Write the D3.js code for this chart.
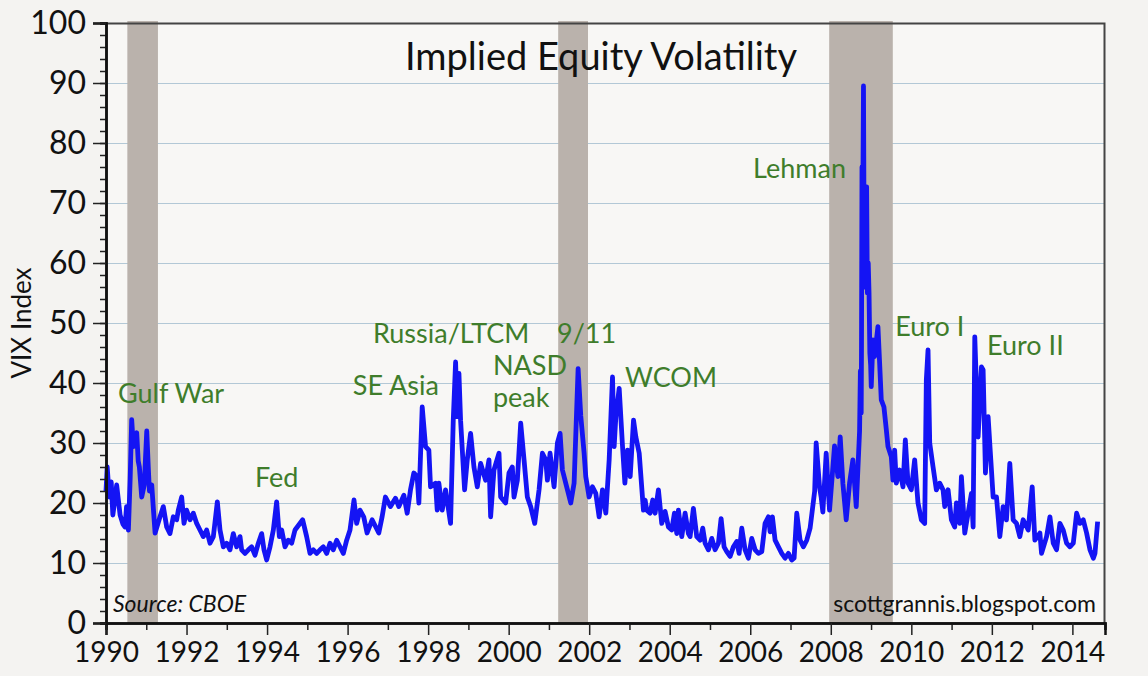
<!DOCTYPE html>
<html>
<head>
<meta charset="utf-8">
<script src="https://cdn.jsdelivr.net/npm/d3@7"></script>
<style>
  html, body { margin: 0; padding: 0; background: #f4f3f1; }
  svg { display: block; font-family: Lato, "Open Sans", sans-serif; }
</style>
</head>
<body>
<svg id="chart"></svg>
<script>
// VIX index, in four stretches (decimal year, index level)
var dates1 = [
  1990.00, 1990.03, 1990.06, 1990.09, 1990.13, 1990.17, 1990.21, 1990.265, 1990.35, 1990.42,
  1990.473, 1990.51, 1990.556, 1990.60, 1990.638, 1990.68, 1990.72, 1990.763, 1990.80, 1990.829,
  1990.887, 1990.95, 1991.012, 1991.05, 1991.078, 1991.136, 1991.177, 1991.219,
  1991.341, 1991.424, 1991.507, 1991.589, 1991.672, 1991.755, 1991.796, 1991.879, 1991.937, 1992.003,
  1992.086, 1992.169, 1992.252, 1992.334, 1992.417, 1992.5, 1992.583, 1992.666, 1992.765, 1992.831,
  1992.914, 1992.997, 1993.08, 1993.162, 1993.245, 1993.328, 1993.369, 1993.452, 1993.535, 1993.617,
  1993.7, 1993.783, 1993.866, 1993.924, 1993.99, 1994.073, 1994.156, 1994.238, 1994.305, 1994.363,
  1994.445, 1994.528, 1994.611, 1994.694, 1994.884, 1994.983, 1995.066, 1995.149, 1995.232, 1995.315,
  1995.397, 1995.48, 1995.563, 1995.646, 1995.729, 1995.811, 1995.894, 1995.977, 1996.06, 1996.159,
  1996.225, 1996.308
];
var vix1 = [
  22, 26, 23, 21, 23.5, 18, 20, 23, 18, 16.5,
  16, 19.4, 15.5, 24, 33.9, 29.4, 30.5, 31.7, 27, 26,
  21, 23, 32, 26, 22, 23, 19, 15,
  17.7, 19.4, 16, 14.9, 17.7, 17.2, 18.8, 21, 16.6, 18.8,
  17.2, 18.3, 16.6, 15.5, 14.4, 15.5, 13.3, 14.4, 20.2, 15.5,
  12.7, 13.3, 12.2, 14.9, 12.7, 14.4, 12.2, 11.6, 12.2, 12.7,
  11.3, 13.3, 14.9, 12.2, 10.5, 12.7, 15.5, 20.2, 14.4, 15.5,
  12.7, 13.8, 13.3, 15.5, 17.2, 14.4, 11.6, 12.2, 11.6, 12.2,
  12.7, 11.6, 13.3, 12.2, 13.8, 12.7, 11.6, 13.8, 15.5, 20.5,
  16.6, 18.8
];

var dates2 = [
  1996.40, 1996.484, 1996.609, 1996.70, 1996.775, 1996.857, 1996.94, 1997.065, 1997.189, 1997.272,
  1997.397, 1997.48, 1997.562, 1997.645, 1997.728, 1997.77, 1997.853, 1997.936, 1998.018, 1998.06,
  1998.184, 1998.226, 1998.267, 1998.35, 1998.433, 1998.557, 1998.624, 1998.682, 1998.723, 1998.765,
  1998.806, 1998.906, 1998.972, 1999.055, 1999.138, 1999.221, 1999.304, 1999.428, 1999.511, 1999.552,
  1999.635, 1999.76, 1999.801, 1999.925, 2000.008, 2000.091, 2000.133, 2000.216, 2000.299, 2000.382,
  2000.464, 2000.547, 2000.647, 2000.755, 2000.838, 2000.92, 2000.962, 2001.028, 2001.128, 2001.211,
  2001.277, 2001.335, 2001.46, 2001.542, 2001.625, 2001.725, 2001.791, 2001.874, 2001.915, 2001.957,
  2001.998, 2002.081, 2002.164, 2002.247, 2002.33, 2002.413, 2002.496, 2002.579, 2002.62, 2002.662,
  2002.745, 2002.828, 2002.886, 2002.952, 2003.018, 2003.101, 2003.159, 2003.242
];
var vix2 = [
  17.7, 15, 17.2, 16, 15, 17.7, 21, 19.4, 20.8, 19.4,
  21.3, 18.3, 22.2, 25, 24.4, 20, 36, 29.4, 28.8, 22.7,
  23.3, 18.8, 23.3, 18.8, 22.2, 16.6, 33.8, 43.5, 34.4, 41.6,
  33.8, 22.2, 27.2, 31.6, 26, 22.7, 26.6, 23.8, 27.2, 17.7,
  25.5, 28.3, 21, 20, 25, 26, 21, 23.8, 33.3, 27.2,
  21, 19.4, 16.6, 22.2, 28.3, 27.2, 23.8, 28.3, 22.7, 30,
  31.6, 25.5, 22.2, 20, 23.3, 42.4, 34.5, 28.3, 24.4, 22.7,
  21, 22.7, 21.6, 17.7, 22.2, 18.3, 27.2, 41, 29.4, 34.4,
  39.1, 29.4, 23.3, 28.8, 24.4, 33.8, 31, 28.3
];

var dates3 = [
  2003.347, 2003.388, 2003.43, 2003.512, 2003.579, 2003.637, 2003.719, 2003.802, 2003.885, 2003.968,
  2004.05, 2004.117, 2004.175, 2004.216, 2004.299, 2004.382, 2004.464, 2004.506, 2004.588, 2004.671,
  2004.754, 2004.82, 2004.878, 2004.961, 2005.044, 2005.127, 2005.209, 2005.276, 2005.35, 2005.416,
  2005.499, 2005.582, 2005.665, 2005.723, 2005.789, 2005.872, 2005.954, 2006.037, 2006.12, 2006.203,
  2006.286, 2006.368, 2006.451, 2006.493, 2006.55, 2006.617, 2006.7, 2006.782, 2006.865, 2006.948,
  2007.03, 2007.089, 2007.155, 2007.238, 2007.321, 2007.403, 2007.486,
  2007.60, 2007.637, 2007.72, 2007.761, 2007.803, 2007.886, 2007.927, 2007.969, 2008.093, 2008.176,
  2008.234, 2008.30, 2008.383, 2008.466, 2008.549, 2008.632
];
var vix3 = [
  18.8, 20.5, 18.8, 18.3, 20.5, 18.3, 22.2, 16.6, 18.6, 16,
  15.5, 18.3, 14.9, 18.8, 14.4, 18.3, 14.9, 14.4, 19.1, 14.4,
  13.8, 15.8, 13.3, 12.2, 14.1, 12.2, 13.3, 17.4, 12.7, 11.9,
  11.1, 12.7, 13.6, 11.6, 15.8, 12.2, 10.8, 14.1, 12.2, 11.6,
  11.9, 16.6, 17.7, 15.2, 17.7, 13.8, 12.7, 11.6, 10.8, 11.6,
  10.5, 10.8, 18.3, 13.8, 12.7, 13.8, 15.8,
  22, 30, 22.7, 21, 18.5, 28.3, 23.3, 18.8, 29.5, 24.4,
  31, 23.3, 17.2, 23.3, 27.2, 19.4
];

var dates4 = [
  2008.715, 2008.735, 2008.755, 2008.762, 2008.775, 2008.795, 2008.812, 2008.83, 2008.85, 2008.87,
  2008.89, 2008.908, 2008.93, 2008.95, 2008.97, 2008.99, 2009.005, 2009.047, 2009.088, 2009.171,
  2009.213, 2009.254, 2009.32, 2009.379, 2009.42, 2009.503, 2009.544, 2009.586, 2009.627, 2009.71,
  2009.793, 2009.851, 2009.918, 2010.00, 2010.083, 2010.166, 2010.249, 2010.332, 2010.373, 2010.415,
  2010.457, 2010.54, 2010.622, 2010.705, 2010.788, 2010.83, 2010.913, 2010.995, 2011.078, 2011.12,
  2011.203, 2011.244, 2011.327, 2011.41, 2011.493, 2011.535, 2011.576, 2011.659, 2011.742, 2011.783,
  2011.841, 2011.907, 2011.974, 2012.032, 2012.115, 2012.198, 2012.281, 2012.363, 2012.446, 2012.529,
  2012.612, 2012.695, 2012.778, 2012.903, 2013.002, 2013.068, 2013.193, 2013.234, 2013.359, 2013.442,
  2013.525, 2013.607, 2013.69, 2013.773, 2013.856, 2013.939, 2014.022, 2014.105, 2014.187, 2014.27,
  2014.353, 2014.437, 2014.52, 2014.561, 2014.627
];
var vix4 = [
  32, 42, 35, 45, 76, 70, 89.5, 60, 56, 66,
  72.7, 55, 60, 55, 45, 43, 39.4, 47.2, 44.4, 49.4,
  43.3, 37.2, 36, 32.2, 29.4, 27.7, 23.8, 28.8, 23.3, 25.5,
  22.7, 30.5, 23.3, 22.2, 27.2, 20, 17.2, 16.6, 40.5, 45.5,
  30, 26, 22.2, 23.3, 22.2, 19.4, 22.2, 17.2, 16, 20,
  16.6, 24.4, 15, 18.3, 21.6, 16, 47.7, 31, 42.7, 42.2,
  25, 34.4, 27.2, 21, 21, 14.4, 19.4, 17.2, 26.6, 17.2,
  16.6, 14.4, 17.2, 15.5, 22.7, 13.8, 15, 11.6, 14.4, 17.7,
  13.3, 12.2, 16.6, 15.5, 13.3, 12.7, 13.3, 18.3, 16.6, 17.2,
  15, 12.2, 10.8, 11.6, 16.9
];

// US recessions (shaded)
var recStart = [1990.53, 2001.23, 2007.96];
var recEnd   = [1991.29, 2001.97, 2009.54];

// event labels: text, left edge (year), baseline (VIX level)
var noteText = ["Gulf War", "Fed", "SE Asia", "Russia/LTCM", "NASD", "peak", "9/11", "WCOM", "Lehman", "Euro I", "Euro II"];
var noteYear = [1990.30, 1993.70, 1996.13, 1996.63, 1999.61, 1999.61, 2001.20, 2002.89, 2006.07, 2009.60, 2011.88];
var noteVal  = [36.7, 22.6, 38.0, 46.6, 41.3, 36.0, 46.7, 39.3, 74.2, 47.9, 44.7];

var yearTicks = d3.range(1990, 2015);
var valueTicks = d3.range(0, 101, 10);

var dates = dates1.concat(dates2, dates3, dates4);
var vix = vix1.concat(vix2, vix3, vix4);

var width = 1148, height = 676;
var margin = {top: 23, right: 43, bottom: 53, left: 106};
var xEnd = 2014.81;

var svg = d3.select("#chart")
    .attr("width", width)
    .attr("height", height);

svg.append("rect")
    .attr("width", width)
    .attr("height", height)
    .attr("fill", "#f4f3f1");

var x = d3.scaleLinear()
    .domain([1990, xEnd])
    .range([margin.left, width - margin.right]);

var y = d3.scaleLinear()
    .domain([0, 100])
    .range([height - margin.bottom, margin.top]);

// plot background
svg.append("rect")
    .attr("x", x(1990))
    .attr("y", y(100))
    .attr("width", x(xEnd) - x(1990))
    .attr("height", y(0) - y(100))
    .attr("fill", "#f8f7f5");

// gridlines
svg.append("g")
    .selectAll("line")
    .data(valueTicks.filter(function (d) { return d > 0 && d < 100; }))
    .enter()
    .append("line")
    .attr("x1", x(1990))
    .attr("x2", x(xEnd))
    .attr("y1", function (d) { return y(d) + 0.5; })
    .attr("y2", function (d) { return y(d) + 0.5; })
    .attr("stroke", "#b3c8d6")
    .attr("stroke-width", 1);

// recession bars
svg.append("g")
    .selectAll("rect")
    .data(recStart)
    .enter()
    .append("rect")
    .attr("x", function (d) { return x(d); })
    .attr("width", function (d, i) { return x(recEnd[i]) - x(d); })
    .attr("y", y(100) - 2)
    .attr("height", y(0) - y(100) + 2)
    .attr("fill", "#bab2ac");

// title
svg.append("text")
    .attr("x", 601)
    .attr("y", 70)
    .attr("text-anchor", "middle")
    .attr("font-size", 38)
    .attr("fill", "#111")
    .text("Implied Equity Volatility");

// the VIX line
var line = d3.line()
    .x(function (d) { return x(d); })
    .y(function (d, i) { return y(vix[i]); });

svg.append("path")
    .datum(dates)
    .attr("d", line)
    .attr("fill", "none")
    .attr("stroke", "#1414f4")
    .attr("stroke-width", 4.8)
    .attr("stroke-linejoin", "round");

// event labels
svg.append("g")
    .selectAll("text")
    .data(noteText)
    .enter()
    .append("text")
    .attr("x", function (d, i) { return x(noteYear[i]); })
    .attr("y", function (d, i) { return y(noteVal[i]); })
    .attr("font-size", 27)
    .attr("fill", "#3f7d2b")
    .text(function (d) { return d; });

// frame: top and right
svg.append("path")
    .attr("d", "M" + x(1990) + "," + (y(100) + 0.5) + "H" + (x(xEnd) - 0.5) + "V" + y(0))
    .attr("fill", "none")
    .attr("stroke", "#444")
    .attr("stroke-width", 2);

// x axis: minor ticks on odd years, labelled ticks on even years
svg.append("g")
    .attr("transform", "translate(0," + y(0) + ")")
    .call(d3.axisBottom(x)
        .tickValues(yearTicks.filter(function (d) { return d % 2 === 1; }))
        .tickSize(7)
        .tickFormat(""));

var xMajor = svg.append("g")
    .attr("transform", "translate(0," + y(0) + ")")
    .call(d3.axisBottom(x)
        .tickValues(yearTicks.filter(function (d) { return d % 2 === 0; }))
        .tickSize(12)
        .tickFormat(d3.format("d")));

xMajor.selectAll("text")
    .attr("y", 39)
    .attr("dy", 0)
    .attr("font-size", 28)
    .attr("font-family", "Lato, sans-serif")
    .attr("fill", "#111");

// y axis: minor ticks every 2, labelled every 10
svg.append("g")
    .attr("transform", "translate(" + x(1990) + ",0)")
    .call(d3.axisLeft(y)
        .tickValues(d3.range(0, 101, 2))
        .tickSize(6)
        .tickFormat(""));

var yMajor = svg.append("g")
    .attr("transform", "translate(" + x(1990) + ",0)")
    .call(d3.axisLeft(y)
        .tickValues(valueTicks)
        .tickSize(13)
        .tickFormat(d3.format("d")));

yMajor.selectAll("text")
    .attr("x", -20)
    .attr("dy", "0.33em")
    .attr("font-size", 32)
    .attr("font-family", "Lato, sans-serif")
    .attr("fill", "#111");

svg.selectAll(".domain")
    .attr("stroke", "#111")
    .attr("stroke-width", 2.5);
svg.selectAll(".tick line")
    .attr("stroke", "#222")
    .attr("stroke-width", 1.5);

// axis title
svg.append("text")
    .attr("transform", "translate(31," + y(50) + ") rotate(-90)")
    .attr("text-anchor", "middle")
    .attr("font-size", 26)
    .attr("fill", "#111")
    .text("VIX Index");

// source and blog credits
svg.append("text")
    .attr("x", 113)
    .attr("y", 612)
    .attr("font-size", 23)
    .attr("font-style", "italic")
    .attr("fill", "#111")
    .text("Source: CBOE");

svg.append("text")
    .attr("x", 1096)
    .attr("y", 612)
    .attr("text-anchor", "end")
    .attr("font-size", 23)
    .attr("fill", "#111")
    .text("scottgrannis.blogspot.com");
</script>
</body>
</html>
